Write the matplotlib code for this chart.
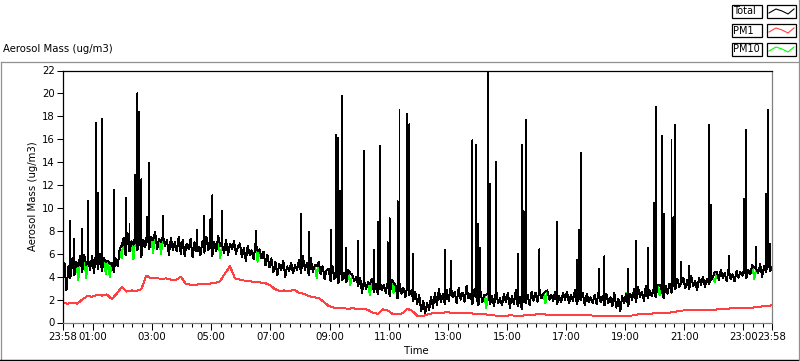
import numpy as np
import matplotlib
matplotlib.use("Agg")
import matplotlib.pyplot as plt
from matplotlib.lines import Line2D
from matplotlib.patches import Rectangle

plt.rcParams['font.family'] = ['DejaVu Sans']
FS = 7.3

# ---- data (minutes after 23:58) ----
step_min = 4
pm10 = [
    3.4, 5.2, 2.8, 4.9, 3.9, 5.6, 4.1, 5.3, 3.7, 5.8, 4.4, 5.9, 3.9, 5.5, 4.6,
    5.8, 4.3, 6.2, 4.7, 6.0, 4.5, 5.6, 4.2, 5.4, 4.0, 5.2, 4.4, 5.6, 4.9, 6.4,
    5.6, 7.4, 5.9, 7.8, 6.2, 7.1, 5.5, 7.6, 6.3, 8.0, 5.7, 7.2, 6.6, 7.9, 6.4,
    7.5, 6.1, 7.9, 6.4, 7.3, 6.0, 7.6, 6.7, 7.2, 5.9, 7.4, 6.3, 7.0, 6.2, 7.5,
    6.0, 7.2, 5.8, 6.9, 6.4, 7.3, 5.7, 7.0, 6.2, 6.6, 5.9, 7.1, 6.1, 7.5, 6.3,
    7.4, 5.8, 7.0, 6.2, 7.6, 5.6, 6.8, 6.1, 7.2, 5.9, 6.9, 6.4, 7.1, 6.0, 6.6,
    6.9, 5.7, 6.5, 5.4, 6.7, 5.9, 6.3, 5.5, 7.0, 5.3, 6.4, 5.6, 6.2, 5.0, 5.9,
    4.8, 5.6, 4.4, 5.3, 4.1, 5.1, 4.6, 5.4, 4.0, 4.9, 4.5, 5.2, 4.3, 5.0, 4.6,
    5.5, 4.3, 5.8, 4.6, 5.2, 4.1, 5.6, 4.4, 5.0, 3.9, 5.3, 4.2, 4.9, 3.8, 4.6,
    4.7, 3.6, 4.9, 3.8, 4.5, 3.4, 4.8, 3.7, 4.3, 3.5, 4.6, 3.3, 4.2, 3.6, 4.0,
    3.2, 3.9, 2.6, 3.7, 2.9, 3.5, 2.4, 3.8, 2.7, 3.4, 2.5, 3.6, 2.8, 3.3, 2.6,
    3.5, 2.3, 3.7, 2.6, 3.2, 2.1, 3.4, 2.5, 3.0, 2.2, 3.3, 2.4, 2.8, 1.9, 2.7,
    1.6, 2.4, 1.0, 1.9, 0.8, 1.7, 1.1, 2.2, 1.3, 2.6, 1.5, 2.9, 1.8, 2.5, 1.6,
    2.8, 1.9, 3.1, 2.2, 2.7, 1.7, 3.0, 2.0, 2.6, 1.8, 3.2, 2.1, 2.5, 1.6, 2.9,
    2.2, 1.5, 2.8, 1.8, 2.4, 1.3, 2.6, 1.6, 2.3, 1.4, 2.9, 1.7, 2.1, 1.5, 2.5,
    1.8, 2.6, 1.3, 2.3, 1.6, 2.8, 1.4, 2.2, 1.2, 2.5, 1.7, 2.4, 1.5, 2.7, 1.9,
    2.6, 1.8, 2.9, 2.1, 2.5, 1.7, 2.8, 2.0, 2.4, 1.9, 2.7, 1.6, 2.3, 1.8, 2.6,
    2.0, 2.7, 1.7, 2.4, 1.9, 2.8, 1.6, 2.3, 2.0, 2.6, 1.5, 2.5, 1.8, 2.2, 1.7,
    2.4, 1.6, 2.7, 1.8, 2.3, 1.5, 2.5, 1.7, 2.2, 1.4, 2.6, 1.3, 2.1, 1.0, 2.3,
    1.7, 2.6, 1.4, 2.5, 2.0, 2.9, 1.8, 3.1, 2.2, 2.7, 1.9, 3.2, 2.1, 2.8, 2.3,
    3.0, 2.2, 3.3, 2.4, 2.9, 2.1, 3.2, 2.5, 3.4, 2.6, 3.6, 2.9, 3.8, 3.1, 3.5,
    3.9, 3.0, 3.7, 2.9, 4.1, 3.2, 3.6, 2.8, 3.9, 3.3, 4.0, 3.1, 3.8, 3.4, 3.7,
    4.0, 3.5, 4.4, 3.7, 4.6, 3.9, 4.3, 3.6, 4.7, 3.8, 4.2, 3.6, 4.5, 3.9, 4.4,
    4.1, 4.8, 3.9, 4.6, 4.2, 5.0, 3.8, 4.7, 4.3, 5.1, 4.0, 4.9, 4.4, 5.6, 4.5,
    4.8,
]

# coarse-particle spikes in Total (minute, total value)
spike_min = [16, 24, 40, 52, 68, 72, 80, 104, 128, 136, 148, 152, 156, 160,
             172, 176, 204, 272, 288, 300, 304, 324, 392, 484, 500, 544, 556,
             560, 564, 568, 576, 600, 612, 632, 640, 644, 660, 664, 680, 684,
             700, 704, 712, 776, 788, 832, 840, 844, 848, 864, 868, 880, 924,
             932, 936, 940, 968, 1004, 1044, 1048, 1052, 1088, 1100, 1148,
             1164, 1188, 1200, 1204, 1216, 1220, 1236, 1240, 1244, 1256, 1272,
             1312, 1316, 1352, 1384, 1388, 1408, 1428, 1432, 1436]
spike_val = [8.9, 7.3, 8.2, 10.6, 17.4, 11.3, 17.8, 11.6, 10.9, 8.6, 12.9, 20.0,
             18.4, 12.5, 9.2, 13.9, 9.3, 8.1, 9.3, 9.0, 11.1, 9.7, 8.0, 9.5, 7.9,
             8.1, 16.4, 16.1, 11.5, 19.8, 6.5, 7.1, 15.0, 6.3, 8.8, 15.4, 7.0,
             9.1, 10.6, 18.6, 18.2, 17.3, 6.0, 6.3, 5.4, 15.9, 15.5, 8.6, 6.5,
             21.8, 12.1, 14.0, 6.0, 15.5, 9.7, 17.7, 6.4, 8.75, 5.5, 8.1, 14.8,
             4.7, 5.8, 4.7, 7.1, 6.5, 10.4, 18.8, 16.3, 9.5, 15.9, 9.2, 17.25,
             5.3, 4.9, 17.25, 10.3, 5.8, 10.8, 16.8, 6.6, 11.2, 18.6, 6.9]

# points where Total sits a little above PM10 (green shows below black)
coarse_min = [32, 48, 88, 96, 120, 144, 184, 200, 320, 396, 516, 584, 624,
              672, 860, 980, 1144, 1212, 1324, 1404]
coarse_val = [4.9, 5.0, 5.3, 5.1, 6.7, 6.8, 7.2, 7.0, 6.7, 6.2, 4.9, 4.3, 3.4,
              3.5, 2.4, 2.7, 2.5, 3.3, 4.4, 4.8]

pm1_step = 10
pm1 = [
    1.7, 1.65, 1.7, 1.65, 2.0, 2.3, 2.25, 2.4, 2.35, 2.45, 2.05, 2.5, 3.1, 2.7,
    2.8, 2.75, 2.9, 4.1, 3.85, 3.9, 3.8, 3.85, 3.75, 3.7, 4.0, 3.4, 3.3, 3.3,
    3.35, 3.35, 3.4, 3.45, 3.6, 4.3, 4.9, 3.85, 3.75, 3.65, 3.6, 3.55, 3.5,
    3.45, 3.3, 2.95, 2.75, 2.8, 2.75, 2.85, 2.6, 2.5, 2.3, 2.2, 2.15, 1.8, 1.45,
    1.3, 1.25, 1.25, 1.2, 1.25, 1.15, 1.2, 1.1, 0.85, 0.75, 1.15, 1.05, 0.75,
    0.7, 0.8, 1.2, 1.0, 0.6, 0.55, 0.7, 0.8, 0.85, 0.85, 0.9, 0.85, 0.85, 0.85,
    0.8, 0.8, 0.75, 0.75, 0.7, 0.65, 0.6, 0.6, 0.6, 0.62, 0.6, 0.6, 0.62, 0.65,
    0.7, 0.7, 0.7, 0.65, 0.7, 0.65, 0.65, 0.62, 0.65, 0.65, 0.65, 0.62, 0.6,
    0.6, 0.58, 0.58, 0.6, 0.6, 0.6, 0.6, 0.62, 0.72, 0.75, 0.75, 0.8, 0.85,
    0.85, 0.85, 0.9, 1.0, 1.05, 1.05, 1.05, 1.05, 1.1, 1.1, 1.1, 1.15, 1.15,
    1.2, 1.25, 1.25, 1.25, 1.3, 1.3, 1.35, 1.4, 1.45, 1.5,
]

tick_min = [0, 62, 182, 302, 422, 542, 662, 782, 902, 1022, 1142, 1262, 1382, 1440]
tick_lbl = ['23:58', '01:00', '03:00', '05:00', '07:00', '09:00', '11:00',
            '13:00', '15:00', '17:00', '19:00', '21:00', '23:00', '23:58']

t10 = np.arange(len(pm10)) * step_min
t1 = np.arange(len(pm1)) * pm1_step

# Total follows PM10; a bit higher at coarse points, and at each spike
# it jumps straight up and back down
spikes = dict(zip(spike_min, spike_val))
coarse = dict(zip(coarse_min, coarse_val))
tot_t, tot_v = [], []
for t, v in zip(t10, pm10):
    v = coarse.get(t, v)
    tot_t.append(t)
    tot_v.append(v)
    if t in spikes:
        tot_t += [t, t]
        tot_v += [spikes[t], v]

W, H = 800, 361
fig = plt.figure(figsize=(W / 100, H / 100), dpi=100)
fig.patch.set_facecolor('white')


def fx(px):
    return px / W


def fy(py):
    return 1 - py / H


ax = fig.add_axes([fx(62.5), fy(322.5), fx(772) - fx(62.5), fy(70.5) - fy(322.5)])
ax.plot(t10, pm10, color='#00ff00', lw=0.7, antialiased=False)
ax.plot(t1, pm1, color='#ff4040', lw=0.7, antialiased=False)
ax.plot(tot_t, tot_v, color='black', lw=0.7, antialiased=False)

ax.set_xlim(0, 1440)
ax.set_ylim(0, 22)
ax.set_yticks(np.arange(0, 23, 2))
ax.set_xticks(tick_min)
ax.set_xticklabels(tick_lbl)
ax.set_xticks(np.arange(2, 1440, 20), minor=True)
ax.tick_params(axis='both', labelsize=FS, colors='black', width=0.75, pad=1.5)
ax.tick_params(axis='x', which='major', length=5)
ax.tick_params(axis='x', which='minor', length=3, width=0.75)
ax.tick_params(axis='y', length=4)
for s in ['top', 'left']:
    ax.spines[s].set_color('black')
    ax.spines[s].set_linewidth(0.9)
for s in ['bottom', 'right']:
    ax.spines[s].set_color('#808080')
    ax.spines[s].set_linewidth(0.9)

# outer panel frame
fig.add_artist(Line2D([fx(0.5), fx(799)], [fy(61.5), fy(61.5)], color='#909090', lw=0.9))
fig.add_artist(Line2D([fx(0.5), fx(0.5)], [fy(61.5), fy(360)], color='#909090', lw=0.9))
fig.add_artist(Line2D([fx(0), fx(800)], [fy(359.8), fy(359.8)], color='black', lw=1.0))
fig.add_artist(Line2D([fx(799), fx(799)], [fy(0), fy(360)], color='#909090', lw=0.9))

fig.text(fx(3), fy(49), 'Aerosol Mass (ug/m3)', fontsize=FS, ha='left', va='center')
fig.text(fx(33), fy(196), 'Aerosol Mass (ug/m3)', fontsize=FS, rotation=90,
         ha='center', va='center')
fig.text(fx(416), fy(351), 'Time', fontsize=FS, ha='center', va='center')

# legend boxes
names = ['Total', 'PM1', 'PM10']
colors = ['black', '#ff4040', '#00ff00']
for i, (nm, c) in enumerate(zip(names, colors)):
    top = 5 + i * 19
    h = 13
    fig.add_artist(Rectangle((fx(732), fy(top + h)), fx(762) - fx(732), fy(top) - fy(top + h),
                             fill=False, edgecolor='black', lw=0.9))
    fig.text(fx(733.5), fy(top + h / 2), nm, fontsize=7.0, ha='left', va='center')
    fig.add_artist(Rectangle((fx(767), fy(top + h)), fx(796) - fx(767), fy(top) - fy(top + h),
                             fill=False, edgecolor='black', lw=0.9))
    sx = [769, 776, 782, 788, 794]
    sy = [top + 8, top + 4, top + 6, top + 9, top + 4]
    fig.add_artist(Line2D([fx(v) for v in sx], [fy(v) for v in sy], color=c, lw=0.8))

fig.savefig('out.png', dpi=100)
